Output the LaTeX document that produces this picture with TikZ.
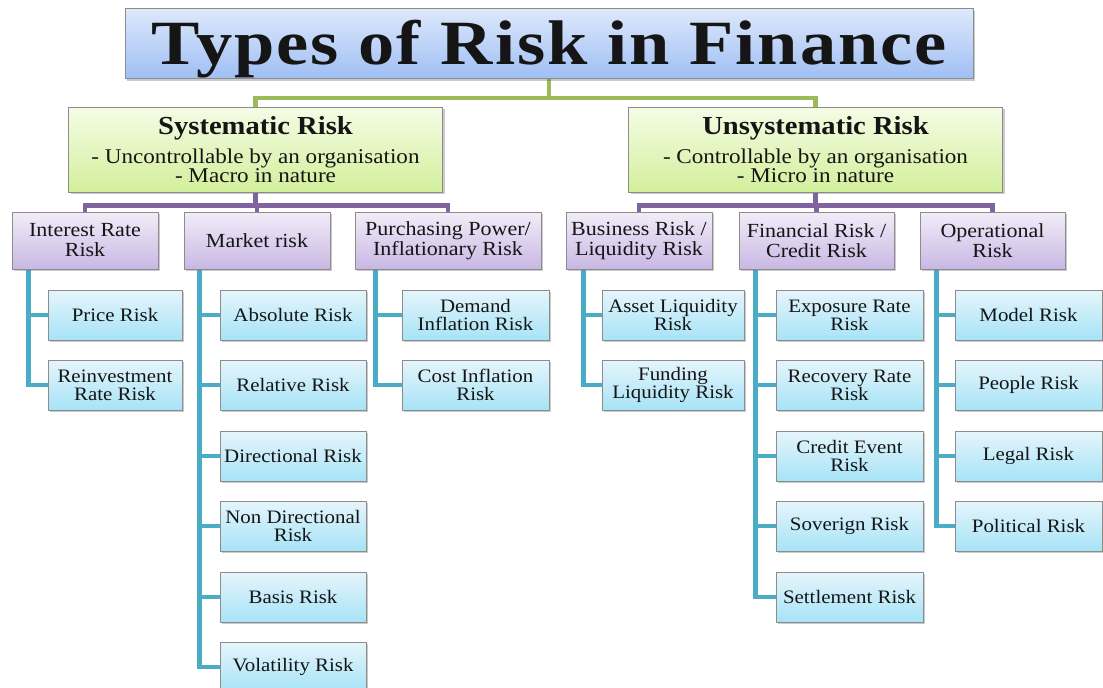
\documentclass[tikz,border=0pt]{standalone}
\usepackage{fontspec}
\setmainfont{Liberation Serif}[FakeStretch=1.1]
\newfontfamily\titlefont{Liberation Serif}[FakeStretch=1.15, LetterSpace=3]
\usetikzlibrary{shadows,calc}
\pgfdeclarelayer{bg}
\pgfsetlayers{bg,main}
\definecolor{cGreen}{HTML}{9BBB59}
\definecolor{cPurple}{HTML}{8064A2}
\definecolor{cTeal}{HTML}{4BACC6}
\definecolor{cBorder}{HTML}{8C8C8C}
\definecolor{cText}{HTML}{151515}
\definecolor{cTitleTop}{HTML}{DDE8FB}
\definecolor{cTitleBot}{HTML}{A0BFF4}
\definecolor{cGrTop}{HTML}{F5FCE6}
\definecolor{cGrBot}{HTML}{D3EF9B}
\definecolor{cPuTop}{HTML}{F2EDF8}
\definecolor{cPuBot}{HTML}{C9B7E4}
\definecolor{cLfTop}{HTML}{E6F5FB}
\definecolor{cLfBot}{HTML}{A6E3F7}
\tikzset{
  box/.style={draw=cBorder, line width=0.9pt, inner sep=2pt, align=center, text=cText,
    drop shadow={shadow xshift=2pt, shadow yshift=-2pt, opacity=0.35, fill=black!60}},
  titlebox/.style={box, top color=cTitleTop, bottom color=cTitleBot,
    minimum width=848, minimum height=70, inner sep=0pt, text height=42pt, text depth=1pt,
    font=\titlefont\bfseries\fontsize{63}{63}\selectfont},
  mainbox/.style={box, top color=cGrTop, bottom color=cGrBot,
    minimum width=374, minimum height=85, font=\fontsize{21}{19}\selectfont},
  catbox/.style={box, top color=cPuTop, bottom color=cPuBot,
    minimum height=57, font=\fontsize{20}{20}\selectfont},
  leafbox/.style={box, top color=cLfTop, bottom color=cLfBot,
    minimum height=50, font=\fontsize{19}{18}\selectfont},
  gline/.style={draw=cGreen, line width=4.3pt},
  pline/.style={draw=cPurple, line width=4.3pt},
  tline/.style={draw=cTeal, line width=4.3pt},
}
\begin{document}
\begin{tikzpicture}[x=1pt,y=-1pt]
\useasboundingbox (0,0) rectangle (1103,688);
% title
\node[titlebox] (title) at (549,43.5) {Types of Risk in Finance};
% main boxes
\node[mainbox] (sys) at (255.5,149.5) {{\bfseries\fontsize{26}{26}\selectfont Systematic Risk}\\[7pt]- Uncontrollable by an organisation\\- Macro in nature};
\node[mainbox] (uns) at (815.5,149.5) {{\bfseries\fontsize{26}{26}\selectfont Unsystematic Risk}\\[7pt]- Controllable by an organisation\\- Micro in nature};
% categories
\node[catbox, minimum width=146] (ir) at (85,240.5) {Interest Rate\\Risk};
\node[catbox, minimum width=146] (mk) at (257,240.5) {Market risk};
\node[catbox, minimum width=186] (pp) at (448,240.5) {Purchasing Power/\\Inflationary Risk};
\node[catbox, minimum width=146] (bu) at (639,240.5) {Business Risk /\\Liquidity Risk};
\node[catbox, minimum width=155] (fi) at (816.5,240.5) {Financial Risk /\\Credit Risk};
\node[catbox, minimum width=145] (op) at (992.5,240.5) {Operational\\Risk};
% interest rate leaves
\node[leafbox, minimum width=134] (ir1) at (115,315) {Price Risk};
\node[leafbox, minimum width=134] (ir2) at (115,385) {Reinvestment\\Rate Risk};
% market leaves
\node[leafbox, minimum width=146] (mk1) at (293,315) {Absolute Risk};
\node[leafbox, minimum width=146] (mk2) at (293,385) {Relative Risk};
\node[leafbox, minimum width=146] (mk3) at (293,456) {Directional Risk};
\node[leafbox, minimum width=146] (mk4) at (293,526) {Non Directional\\Risk};
\node[leafbox, minimum width=146] (mk5) at (293,597) {Basis Risk};
\node[leafbox, minimum width=146] (mk6) at (293,667) {Volatility Risk};
% purchasing leaves
\node[leafbox, minimum width=147] (pp1) at (475.5,315) {Demand\\Inflation Risk};
\node[leafbox, minimum width=147] (pp2) at (475.5,385) {Cost Inflation\\Risk};
% business leaves
\node[leafbox, minimum width=142] (bu1) at (673,315) {Asset Liquidity\\Risk};
\node[leafbox, minimum width=142] (bu2) at (673,385) {Funding\\Liquidity Risk};
% financial leaves
\node[leafbox, minimum width=147] (fi1) at (849.5,315) {Exposure Rate\\Risk};
\node[leafbox, minimum width=147] (fi2) at (849.5,385) {Recovery Rate\\Risk};
\node[leafbox, minimum width=147] (fi3) at (849.5,456) {Credit Event\\Risk};
\node[leafbox, minimum width=147] (fi4) at (849.5,526) {Soverign Risk};
\node[leafbox, minimum width=147] (fi5) at (849.5,597) {Settlement Risk};
% operational leaves
\node[leafbox, minimum width=147] (op1) at (1028.5,315) {Model Risk};
\node[leafbox, minimum width=147] (op2) at (1028.5,385) {People Risk};
\node[leafbox, minimum width=147] (op3) at (1028.5,456) {Legal Risk};
\node[leafbox, minimum width=147] (op4) at (1028.5,526) {Political Risk};
% connectors
\begin{pgfonlayer}{bg}
\draw[gline] (title.south) -- ++(0,19) -| (sys.north);
\draw[gline] (title.south) -- ++(0,19) -| (uns.north);
\foreach \c in {ir,mk,pp} \draw[pline] (sys.south) -- ++(0,13) -| (\c.north);
\foreach \c in {bu,fi,op} \draw[pline] (uns.south) -- ++(0,13) -| (\c.north);
\foreach \c in {ir1,ir2} \draw[tline] ($(ir.south west)+(17,0)$) |- (\c.west);
\foreach \c in {mk1,mk2,mk3,mk4,mk5,mk6} \draw[tline] ($(mk.south west)+(16,0)$) |- (\c.west);
\foreach \c in {pp1,pp2} \draw[tline] ($(pp.south west)+(21,0)$) |- (\c.west);
\foreach \c in {bu1,bu2} \draw[tline] ($(bu.south west)+(18,0)$) |- (\c.west);
\foreach \c in {fi1,fi2,fi3,fi4,fi5} \draw[tline] ($(fi.south west)+(17,0)$) |- (\c.west);
\foreach \c in {op1,op2,op3,op4} \draw[tline] ($(op.south west)+(17,0)$) |- (\c.west);
\end{pgfonlayer}
\end{tikzpicture}
\end{document}
